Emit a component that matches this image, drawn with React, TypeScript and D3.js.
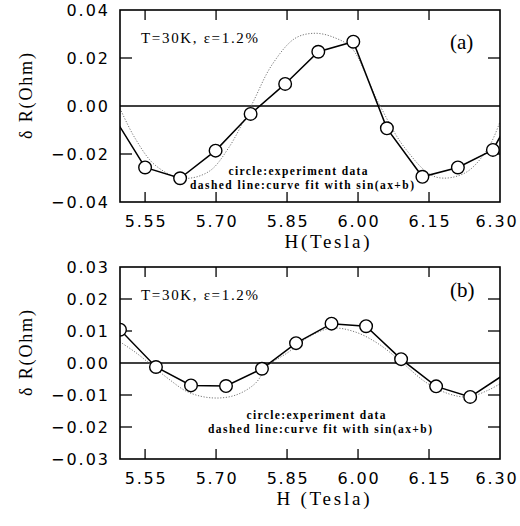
import React, { useRef, useEffect } from 'react';
import * as d3 from 'd3';

// panel (a): measured points
const fieldA = [5.476, 5.55, 5.624, 5.699, 5.773, 5.846, 5.916, 5.99, 6.061, 6.136, 6.211, 6.285, 6.36];
const resA = [-0.002, -0.0256, -0.0301, -0.0186, -0.0033, 0.0092, 0.0226, 0.0268, -0.0093, -0.0295, -0.0256, -0.0183, 0.009];
// panel (a): fit curve
const fitFieldA = [5.497, 5.529, 5.571, 5.628, 5.684, 5.726, 5.775, 5.818, 5.867, 5.909, 5.95, 5.987, 6.042, 6.099, 6.163, 6.226, 6.275, 6.3];
const fitResA = [-0.001, -0.0135, -0.0246, -0.0301, -0.0274, -0.0176, 0.0004, 0.0171, 0.0282, 0.0303, 0.0285, 0.024, 0.0018, -0.0175, -0.0295, -0.0279, -0.0175, -0.0065];

// panel (b)
const fieldB = [5.497, 5.573, 5.647, 5.721, 5.797, 5.869, 5.944, 6.017, 6.091, 6.165, 6.237, 6.32];
const resB = [0.0104, -0.00125, -0.007, -0.0072, -0.0018, 0.0062, 0.0123, 0.0115, 0.0012, -0.0073, -0.0106, -0.0025];
const fitFieldB = [5.497, 5.529, 5.564, 5.599, 5.641, 5.691, 5.74, 5.782, 5.811, 5.853, 5.895, 5.944, 5.994, 6.043, 6.092, 6.142, 6.191, 6.233, 6.275, 6.3];
const fitResB = [0.0066, 0.0034, -0.0007, -0.0049, -0.0091, -0.0109, -0.0101, -0.0065, -0.0007, 0.0034, 0.0081, 0.0109, 0.0097, 0.006, 0.0003, -0.0059, -0.0096, -0.0106, -0.0085, -0.0065];

const xTicks = [5.55, 5.7, 5.85, 6.0, 6.15, 6.3];
const yTicksA = [-0.04, -0.02, 0.0, 0.02, 0.04];
const yTicksB = [-0.03, -0.02, -0.01, 0.0, 0.01, 0.02, 0.03];

const serif = "'Liberation Serif', 'DejaVu Serif', serif";
const sans = "'DejaVu Sans', sans-serif";

const Panel = ({ id, top, bottom, field, res, fitField, fitRes, yTicks, yMax, tag, tagY, tempY, xTitle, xTitleLen, xTitleX, legendX, legendY }) => {
    const ref = useRef(null);

    useEffect(() => {
        const left = 120, right = 500;
        const g = d3.select(ref.current);
        g.selectAll('*').remove();

        const x = d3.scaleLinear().domain([5.497, 6.3]).range([left, right]);
        const y = d3.scaleLinear().domain([-yMax, yMax]).range([bottom, top]);
        const fmt = d3.format('.2f');

        g.append('clipPath').attr('id', id).append('rect')
            .attr('x', left).attr('y', top).attr('width', right - left).attr('height', bottom - top);

        // zero line
        g.append('line').attr('x1', left).attr('x2', right).attr('y1', y(0)).attr('y2', y(0))
            .attr('stroke', '#000').attr('stroke-width', 1.4);

        // ticks inside frame
        const xt = xTicks.filter(d => d < 6.29);
        g.selectAll('.xb').data(xt).join('line')
            .attr('x1', d => x(d)).attr('x2', d => x(d)).attr('y1', bottom).attr('y2', bottom - 10)
            .attr('stroke', '#000').attr('stroke-width', 1.3);
        g.selectAll('.xt').data(xt).join('line')
            .attr('x1', d => x(d)).attr('x2', d => x(d)).attr('y1', top).attr('y2', top + 10)
            .attr('stroke', '#000').attr('stroke-width', 1.3);
        const yt = yTicks.filter(d => Math.abs(d) < yMax - 1e-6 && d !== 0);
        g.selectAll('.yl').data(yt).join('line')
            .attr('x1', left).attr('x2', left + 12).attr('y1', d => y(d)).attr('y2', d => y(d))
            .attr('stroke', '#000').attr('stroke-width', 1.3);
        g.selectAll('.yr').data(yt).join('line')
            .attr('x1', right).attr('x2', right - 12).attr('y1', d => y(d)).attr('y2', d => y(d))
            .attr('stroke', '#000').attr('stroke-width', 1.3);

        // tick labels
        g.selectAll('.xlab').data(xTicks).join('text')
            .attr('x', d => (d > 6.29 ? x(d) - 3 : x(d) + 1)).attr('y', bottom + 25)
            .attr('text-anchor', 'middle').attr('font-family', sans).attr('font-size', 16)
            .attr('letter-spacing', 1.8).text(d => fmt(d));
        g.selectAll('.ylab').data(yTicks).join('text')
            .attr('x', 110).attr('y', d => y(d) + 6)
            .attr('text-anchor', 'end').attr('font-family', sans).attr('font-size', 16)
            .attr('letter-spacing', 2).text(d => fmt(d));

        const plot = g.append('g').attr('clip-path', `url(#${id})`);

        // fitted curve, dotted grey
        const fit = d3.range(fitField.length).map(i => [fitField[i], fitRes[i]]);
        plot.append('path').datum(fit)
            .attr('d', d3.line().x(d => x(d[0])).y(d => y(d[1])).curve(d3.curveCatmullRom))
            .attr('fill', 'none').attr('stroke', '#777').attr('stroke-width', 1)
            .attr('stroke-dasharray', '1.2,1.6');

        // measured data
        const pts = d3.range(field.length).map(i => [field[i], res[i]]);
        plot.append('path').datum(pts)
            .attr('d', d3.line().x(d => x(d[0])).y(d => y(d[1])))
            .attr('fill', 'none').attr('stroke', '#000').attr('stroke-width', 1.5);
        plot.selectAll('circle').data(pts).join('circle')
            .attr('cx', d => x(d[0])).attr('cy', d => y(d[1])).attr('r', 6.3)
            .attr('fill', '#fff').attr('stroke', '#000').attr('stroke-width', 1.4);

        // frame
        g.append('rect').attr('x', left).attr('y', top).attr('width', right - left).attr('height', bottom - top)
            .attr('fill', 'none').attr('stroke', '#000').attr('stroke-width', 1.6);

        // annotations
        g.append('text').attr('x', 141).attr('y', tempY).attr('font-family', serif).attr('font-size', 15)
            .attr('textLength', 117).attr('lengthAdjust', 'spacing').text('T=30K, \u03b5=1.2%');
        g.append('text').attr('x', 450).attr('y', tagY).attr('font-family', serif).attr('font-size', 21)
            .text(tag);
        g.append('text').attr('x', legendX).attr('y', legendY).attr('text-anchor', 'middle')
            .attr('font-family', serif).attr('font-weight', 'bold').attr('font-size', 11.5)
            .attr('textLength', 139).attr('lengthAdjust', 'spacing').text('circle:experiment data');
        g.append('text').attr('x', legendX + 4).attr('y', legendY + 14).attr('text-anchor', 'middle')
            .attr('font-family', serif).attr('font-weight', 'bold').attr('font-size', 11.5)
            .attr('textLength', 224).attr('lengthAdjust', 'spacing').text('dashed line:curve fit with sin(ax+b)');

        // axis titles
        const cy = top + (bottom - top) / 2 - 10;
        g.append('text').attr('transform', `translate(32,${cy}) rotate(-90)`).attr('text-anchor', 'middle')
            .attr('font-family', serif).attr('font-size', 18)
            .attr('textLength', 86).attr('lengthAdjust', 'spacing').text('\u03b4 R(Ohm)');
        g.append('text').attr('x', xTitleX).attr('y', bottom + 46).attr('text-anchor', 'middle')
            .attr('font-family', serif).attr('font-size', 19)
            .attr('textLength', xTitleLen).attr('lengthAdjust', 'spacing').text(xTitle);
    }, []);

    return <g ref={ref}></g>;
};

const App = () => {
    return (
        <svg width={520} height={526} style={{ position: 'absolute', left: 0, top: 0, background: '#fff' }}>
            <Panel id="clipA" top={10} bottom={202} field={fieldA} res={resA} fitField={fitFieldA} fitRes={fitResA}
                yTicks={yTicksA} yMax={0.04} tag="(a)" tagY={49} tempY={43} xTitle="H(Tesla)" xTitleLen={85} xTitleX={327}
                legendX={298} legendY={175} />
            <Panel id="clipB" top={267} bottom={459} field={fieldB} res={resB} fitField={fitFieldB} fitRes={fitResB}
                yTicks={yTicksB} yMax={0.03} tag="(b)" tagY={297} tempY={300} xTitle="H (Tesla)" xTitleLen={93} xTitleX={323}
                legendX={316} legendY={419} />
        </svg>
    );
};

export default App;
